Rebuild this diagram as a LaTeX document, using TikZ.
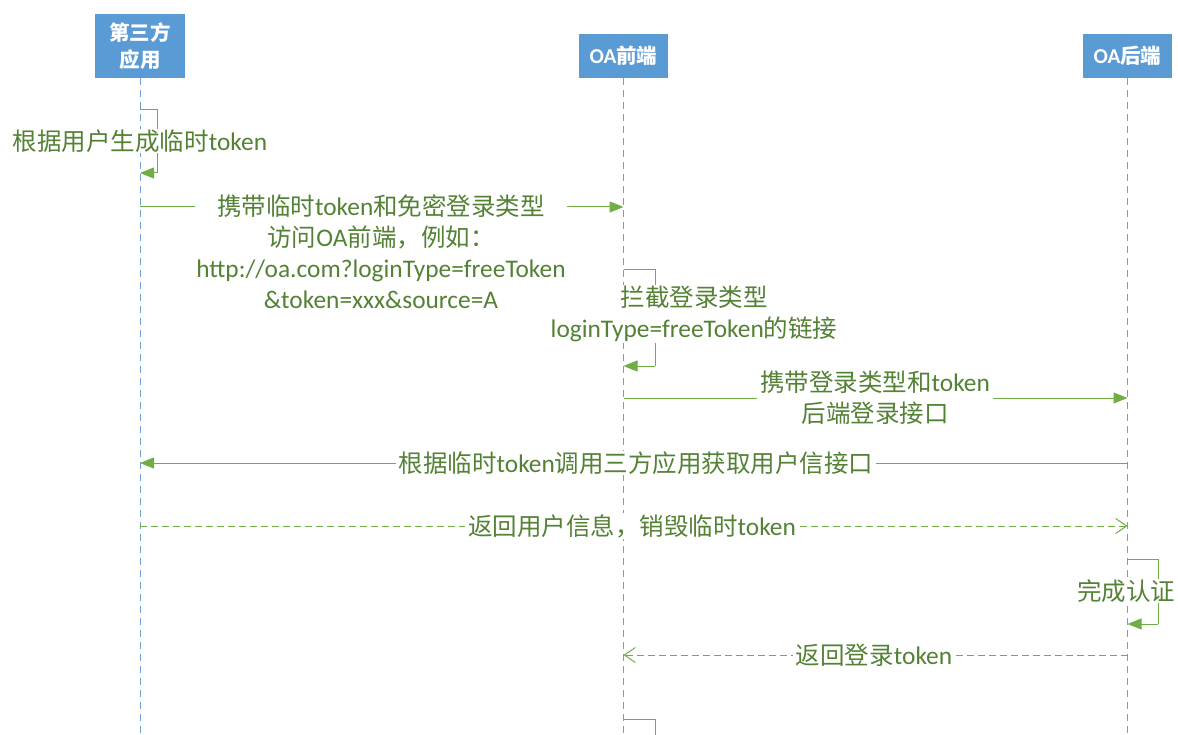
\documentclass[tikz,border=0pt]{standalone}
\usepackage{fontspec}
\setmainfont{Carlito}[Scale=1.035]
\newfontfamily\cjk{Noto Sans CJK SC}
\usetikzlibrary{arrows.meta}
\definecolor{hdr}{HTML}{5B9BD5}
\definecolor{life}{HTML}{6E9FD4}
\definecolor{msg}{HTML}{70AD47}
\definecolor{txt}{HTML}{548235}
\newcommand{\zh}[1]{{\cjk #1}}
\tikzset{
  hdrbox/.style={fill=hdr, draw=none, text=white, font=\fontsize{20.5}{27}\selectfont\bfseries, align=center, inner sep=0pt},
  lifeline/.style={draw=life, line width=0.9pt, dash pattern=on 7pt off 5pt},
  msgline/.style={draw=msg, line width=1pt},
  sync/.style={msgline, -{Triangle[length=14pt,width=11pt]}},
  reply/.style={msgline, dash pattern=on 7pt off 4pt, -{Straight Barb[length=11pt,width=15pt]}},
  lbl/.style={fill=white, text=txt, font=\fontsize{24.5}{31}\selectfont, align=center, inner ysep=1pt, inner xsep=3pt},
}
\begin{document}
\begin{tikzpicture}[x=1pt,y=-1pt]
\useasboundingbox[fill=white] (0,0) rectangle (1178,735);
\begin{scope}
\clip (0,0) rectangle (1178,735);
% headers
\node[hdrbox, minimum width=90pt, minimum height=64pt] (app) at (140,46) {\zh{第三方}\\\zh{应用}};
\node[hdrbox, minimum width=89pt, minimum height=44pt] (fe) at (623.5,56) {OA\zh{前端}};
\node[hdrbox, minimum width=89pt, minimum height=44pt] (be) at (1127.5,56) {OA\zh{后端}};
% lifeline ends
\coordinate (appEnd) at (140,740);
\coordinate (feEnd) at (623.5,740);
\coordinate (beEnd) at (1127.5,740);
\draw[lifeline] (app.south) -- (appEnd);
\draw[lifeline] (fe.south) -- (feEnd);
\draw[lifeline] (be.south) -- (beEnd);

% 1 self message on app
\coordinate (a1) at (140,110);
\coordinate (a1r) at (157,110);
\coordinate (a1b) at (157,173);
\coordinate (a1e) at (140,173);
\draw[msgline] (a1) -- (a1r) -- (a1b);
\draw[sync] (a1b) -- (a1e);
\node[lbl] (l1) at (140,141) {\zh{根据用户生成临时}token};

% 2 app -> fe
\coordinate (a2) at (140,207);
\coordinate (f2) at (623.5,207);
\draw[sync] (a2) -- (f2);
\node[lbl, inner xsep=1pt] (l2) at (381,251.5) {\zh{携带临时}token\zh{和免密登录类型}\\\zh{访问}OA\zh{前端，例如：}\\http://oa.com?loginType=freeToken\\\&token=xxx\&source=A};

% 3 self message on fe
\coordinate (f3) at (623.5,270);
\coordinate (f3r) at (655,270);
\coordinate (f3b) at (655,366);
\coordinate (f3e) at (623.5,366);
\draw[msgline] (f3) -- (f3r) -- (f3b);
\draw[sync] (f3b) -- (f3e);
\node[lbl] (l3) at (694,314) {\zh{拦截登录类型}\\loginType=freeToken\zh{的链接}};

% 4 fe -> be
\coordinate (f4) at (623.5,398);
\coordinate (b4) at (1127.5,398);
\draw[sync] (f4) -- (b4);
\node[lbl] (l4) at (875,397.5) {\zh{携带登录类型和}token\\\zh{后端登录接口}};

% 5 be -> app
\coordinate (b5) at (1127.5,463);
\coordinate (a5) at (140,463);
\draw[sync] (b5) -- (a5);
\node[lbl] (l5) at (636,463) {\zh{根据临时}token\zh{调用三方应用获取用户信接口}};

% 6 app -> be (reply)
\coordinate (a6) at (140,526);
\coordinate (b6) at (1127.5,526);
\draw[reply] (a6) -- (b6);
\node[lbl] (l6) at (632,526) {\zh{返回用户信息，销毁临时}token};

% 7 self message on be
\coordinate (b7) at (1127.5,559);
\coordinate (b7r) at (1158,559);
\coordinate (b7b) at (1158,624);
\coordinate (b7e) at (1127.5,624);
\draw[msgline] (b7) -- (b7r) -- (b7b);
\draw[sync] (b7b) -- (b7e);
\node[lbl] (l7) at (1126,591) {\zh{完成认证}};

% 8 be -> fe (reply)
\coordinate (b8) at (1127.5,655);
\coordinate (f8) at (623.5,655);
\draw[reply] (b8) -- (f8);
\node[lbl] (l8) at (874,655) {\zh{返回登录}token};

% 9 self message on fe (cut off)
\coordinate (f9) at (623.5,719);
\coordinate (f9r) at (655,719);
\coordinate (f9b) at (655,745);
\draw[msgline] (f9) -- (f9r) -- (f9b);
\end{scope}
\end{tikzpicture}
\end{document}
